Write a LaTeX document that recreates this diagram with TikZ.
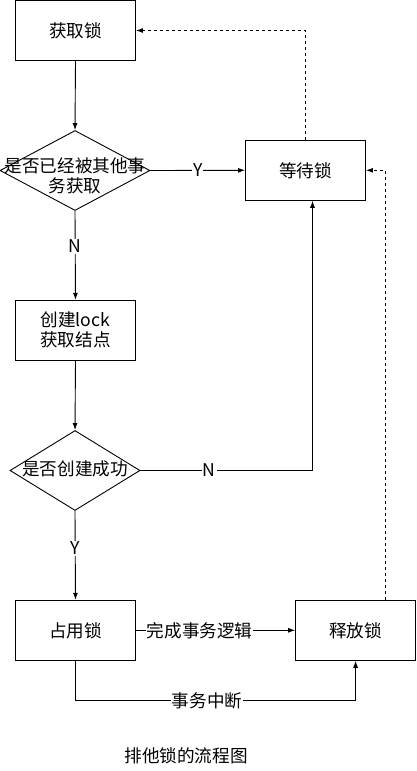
\documentclass[tikz,border=0pt]{standalone}
\usepackage{fontspec}
\setmainfont{Noto Sans CJK SC}
\usetikzlibrary{shapes.geometric,arrows.meta}
\begin{document}
\begin{tikzpicture}[x=1pt,y=-1pt,
  every node/.style={font=\fontsize{17.6pt}{20pt}\selectfont},
  box/.style={draw,line width=0.9pt,minimum width=120pt,minimum height=60pt,inner sep=0pt,align=center},
  dia/.style={draw,line width=0.9pt,diamond,inner sep=0pt,minimum width=#1,minimum height=80pt},
  conn/.style={line width=0.9pt,-{Latex[length=7pt,width=5pt]}},
  dconn/.style={conn,dash pattern=on 3pt off 3pt},
  lab/.style={fill=white,inner sep=1pt}]
\useasboundingbox (0,0) rectangle (416,771);
\node[box] (a) at (75.5,30.5) {获取锁};
\node[dia=150pt] (d1) at (75,170.5) {};
\node[align=center] (t1) at (75,176) {是否已经被其他事\\务获取};
\node[box] (wait) at (305.5,170.3) {等待锁};
\node[box] (create) at (75.5,330.3) {创建lock\\获取结点};
\node[dia=130pt] (d2) at (75,470.5) {};
\node (t2) at (75,469) {是否创建成功};
\node[box] (use) at (75.5,630.3) {占用锁};
\node[box] (rel) at (355.6,630.3) {释放锁};
\node (cap) at (186,756) {排他锁的流程图};

\draw[conn] (a.south) -- (d1.north);
\draw[conn] (d1.east) -- node[lab]{Y} (wait.west);
\draw[conn] (d1.south) -- node[lab,pos=0.4]{N} (create.north);
\draw[conn] (create.south) -- (d2.north);
\draw[conn] (d2.east) -| node[lab,pos=0.2]{N} ([xshift=7pt]wait.south);
\draw[conn] (d2.south) -- node[lab,pos=0.42]{Y} (use.north);
\draw[conn] (use.east) -- node[lab,pos=0.4]{完成事务逻辑} (rel.west);
\draw[conn] (use.south) -- ++(0,40) coordinate (c1) -| node[lab,pos=0.235]{事务中断} (rel.south);
\draw[dconn] ([xshift=30pt]rel.north) |- (wait.east);
\draw[dconn] (wait.north) |- (a.east);
\end{tikzpicture}
\end{document}
